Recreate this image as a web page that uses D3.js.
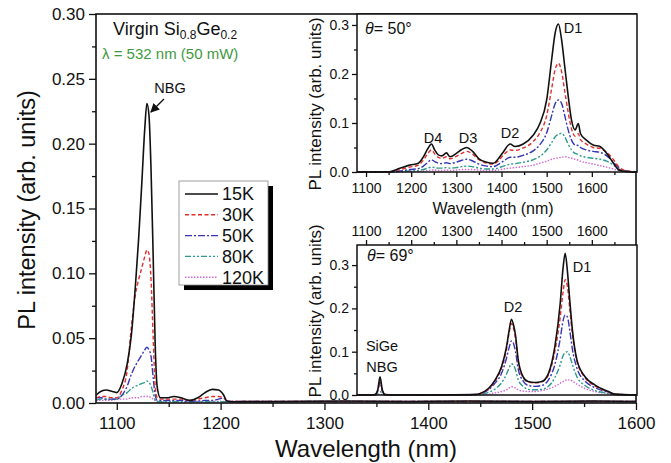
<!DOCTYPE html>
<html>
<head>
<meta charset="utf-8">
<script src="https://cdn.jsdelivr.net/npm/d3@7"></script>
<style>
  body { margin: 0; background: #fff; }
  svg { font-family: "Liberation Sans", Arial, sans-serif; }
</style>
</head>
<body>
<div id="chart"></div>
<script>
// ---- data ----
var temps = ["15K", "30K", "50K", "80K", "120K"];

// main panel: wavelength (nm)
var mainWl = [1080,1085,1090,1095,1100,1105,1110,1114,1118,1121,1124,1127,1129,1131,1133,1135,1137,1139,1142,1148,1155,1162,1170,1178,1185,1192,1198,1203,1206,1210,1260,1320,1380,1440,1500,1560,1600];
var main15 = [.006,.009,.010,.009,.008,.015,.030,.052,.091,.126,.168,.212,.231,.222,.180,.115,.045,.012,.004,.004,.005,.004,.002,.004,.008,.0105,.010,.006,.0015,.001,.0012,.0015,.0012,.0015,.0012,.0015,.0012];
var main30 = [.004,.005,.005,.004,.004,.010,.025,.058,.084,.095,.104,.113,.118,.115,.095,.052,.013,.004,.003,.003,.003,.003,.002,.003,.004,.005,.005,.004,.0015,.0012,.0012,.0012,.0012,.0012,.0012,.0012,.0012];
var main50 = [.004,.004,.003,.003,.003,.006,.013,.022,.029,.033,.037,.041,.043,.041,.036,.020,.006,.002,.002,.002,.002,.002,.0015,.0015,.002,.002,.003,.004,.0015,.0012,.0012,.0012,.0012,.0012,.0012,.0012,.0012];
var main80 = [.002,.003,.003,.003,.003,.006,.008,.011,.013,.014,.015,.016,.017,.016,.013,.008,.002,.001,.001,.001,.001,.001,.001,.001,.001,.001,.001,.001,.001,.001,.001,.001,.001,.001,.001,.001,.001];
var main120 = [.002,.002,.002,.002,.003,.003,.003,.004,.004,.004,.005,.005,.005,.005,.004,.003,.002,.0012,.0012,.0012,.0012,.0012,.0012,.0012,.0012,.0012,.0012,.0012,.0012,.0012,.0012,.0012,.0012,.0012,.0012,.0012,.0012];

// inset (a): theta = 50 deg
var wlA = [1080,1120,1150,1175,1197,1216,1227,1237,1245,1252,1260,1268,1278,1286,1300,1312,1323,1335,1350,1367,1382,1392,1404,1419,1430,1448,1470,1485,1500,1511,1519,1526,1533,1540,1547,1555,1563,1570,1575,1588,1603,1618,1633,1648,1660,1675,1700];
var a15 = [0,0,0,.0075,.014,.018,.031,.048,.057,.045,.035,.033,.039,.031,.038,.046,.050,.043,.027,.020,.018,.026,.041,.057,.052,.057,.075,.099,.147,.229,.285,.302,.270,.215,.160,.106,.086,.099,.078,.065,.055,.052,.038,.018,.004,.001,0];
var a30 = [0,0,0,.005,.010,.014,.024,.038,.045,.037,.030,.028,.031,.027,.032,.038,.042,.037,.025,.018,.016,.022,.034,.045,.044,.049,.062,.080,.115,.170,.210,.222,.205,.165,.125,.088,.073,.078,.066,.057,.050,.048,.040,.025,.010,.003,0];
var a50 = [0,0,0,.002,.005,.007,.012,.020,.025,.021,.018,.017,.019,.017,.020,.024,.026,.023,.016,.012,.011,.015,.022,.030,.030,.034,.043,.056,.080,.115,.140,.147,.140,.115,.088,.065,.055,.054,.050,.045,.042,.040,.033,.020,.008,.002,0];
var a80 = [0,0,0,.001,.002,.003,.005,.008,.010,.009,.008,.008,.009,.008,.009,.011,.012,.011,.008,.006,.006,.008,.012,.016,.017,.020,.025,.032,.045,.060,.072,.077,.079,.072,.058,.045,.038,.036,.033,.030,.028,.026,.022,.014,.006,.002,0];
var a120 = [0,0,0,0,.001,.001,.002,.003,.004,.004,.003,.003,.004,.003,.004,.005,.005,.005,.004,.003,.003,.004,.006,.008,.009,.011,.014,.018,.022,.026,.028,.029,.030,.031,.030,.028,.026,.024,.022,.019,.016,.013,.010,.006,.003,.001,0];

// inset (b): theta = 69 deg
var wlB = [1080,1110,1120,1126,1131,1136,1142,1160,1250,1340,1371,1386,1400,1411,1417,1422,1427,1431,1437,1448,1459,1474,1489,1504,1518,1530,1536,1541,1546,1551,1557,1567,1585,1607,1637,1650,1700];
var b15 = [0,0,.001,.012,.042,.012,.001,0,0,.001,.015,.035,.065,.111,.150,.175,.160,.138,.081,.042,.031,.029,.031,.050,.111,.212,.290,.327,.285,.220,.150,.081,.042,.023,.008,.002,0];
var b30 = [0,0,.001,.010,.032,.010,.001,0,0,.001,.014,.033,.062,.105,.145,.165,.152,.130,.076,.040,.030,.028,.030,.047,.100,.180,.235,.266,.250,.200,.140,.078,.040,.021,.007,.002,0];
var b50 = [0,0,.001,.010,.030,.010,.001,0,0,.001,.012,.028,.050,.085,.110,.125,.118,.100,.060,.032,.022,.020,.022,.035,.070,.130,.170,.185,.180,.150,.105,.062,.032,.017,.006,.002,0];
var b80 = [0,0,0,.004,.008,.004,0,0,0,0,.006,.014,.028,.048,.063,.072,.068,.058,.035,.020,.013,.012,.013,.020,.040,.070,.090,.098,.100,.090,.070,.042,.022,.010,.004,.001,0];
var b120 = [0,0,0,.001,.002,.001,0,0,0,0,.002,.005,.008,.012,.016,.019,.018,.016,.012,.009,.008,.008,.010,.014,.020,.027,.031,.034,.035,.035,.032,.025,.015,.008,.003,.001,0];

var mainTicksY = [0, 0.05, 0.10, 0.15, 0.20, 0.25, 0.30];
var mainTicksX = [1100, 1200, 1300, 1400, 1500, 1600];
var insetTicksX = [1100, 1200, 1300, 1400, 1500, 1600];
var insetTicksY = [0, 0.1, 0.2, 0.3];

// ---- styles ----
var colors = ["#111", "#e0302c", "#3535b8", "#2c9a8c", "#d26ad2"];
var dashes = [null, "4,2.5", "7,2,2,2", "6,2,2,2,2,2", "1.5,1.5"];
var widths = [1.6, 1.4, 1.4, 1.4, 1.4];

var W = 671, H = 463;
var svg = d3.select("#chart").append("svg").attr("width", W).attr("height", H);

var mx = d3.scaleLinear().domain([1080, 1600]).range([96, 636]);
var my = d3.scaleLinear().domain([0, 0.30]).range([403, 14]);

function drawSeries(g, x, y, wl, series, clipId) {
  var line = d3.line().curve(d3.curveMonotoneX)
    .x(function(d, i) { return x(wl[i]) })
    .y(function(d) { return y(d) });
  // draw hotter first so the 15K line sits on top
  for (var k = series.length - 1; k >= 0; k--) {
    g.append("path")
      .attr("clip-path", "url(#" + clipId + ")")
      .attr("d", line(series[k]))
      .attr("fill", "none")
      .attr("stroke", colors[k])
      .attr("stroke-width", widths[k])
      .attr("stroke-dasharray", dashes[k]);
  }
}

function addClip(id, x0, y0, x1, y1) {
  svg.append("clipPath").attr("id", id).append("rect")
    .attr("x", x0).attr("y", y0 - 2).attr("width", x1 - x0).attr("height", y1 - y0 + 4);
}

function styleAxis(g, fs) {
  g.selectAll(".domain").remove();
  g.selectAll("line").attr("stroke", "#111").attr("stroke-width", 1.3);
  g.selectAll("text").attr("font-size", fs).attr("fill", "#111");
}

// ---- main panel ----
addClip("clipMain", 96, 14, 636, 403);
drawSeries(svg.append("g"), mx, my, mainWl, [main15, main30, main50, main80, main120], "clipMain");

var gxm = svg.append("g").attr("transform", "translate(0,403)")
  .call(d3.axisBottom(mx).tickValues(mainTicksX).tickSize(7).tickPadding(7).tickFormat(d3.format("d")));
styleAxis(gxm, "17px");
var gxm2 = svg.append("g").attr("transform", "translate(0,403)")
  .call(d3.axisBottom(mx).tickValues([1150, 1250, 1350, 1450, 1550]).tickSize(4).tickFormat(""));
styleAxis(gxm2, "0px");

var gym = svg.append("g").attr("transform", "translate(96,0)")
  .call(d3.axisLeft(my).tickValues(mainTicksY).tickSize(7).tickPadding(4).tickFormat(d3.format(".2f")));
styleAxis(gym, "17px");
var gym2 = svg.append("g").attr("transform", "translate(96,0)")
  .call(d3.axisLeft(my).tickValues([0.025, 0.075, 0.125, 0.175, 0.225, 0.275]).tickSize(4).tickFormat(""));
styleAxis(gym2, "0px");

svg.append("rect").attr("x", 96).attr("y", 14).attr("width", 540).attr("height", 389)
  .attr("fill", "none").attr("stroke", "#111").attr("stroke-width", 1.6);

svg.append("text").attr("transform", "translate(35,210) rotate(-90)")
  .attr("text-anchor", "middle").attr("font-size", "23.5px").attr("fill", "#111")
  .text("PL intensity (arb. units)");
svg.append("text").attr("x", 366).attr("y", 457)
  .attr("text-anchor", "middle").attr("font-size", "24px").attr("fill", "#111")
  .text("Wavelength (nm)");

// title + excitation
var vt = svg.append("text").attr("x", 113).attr("y", 35).attr("font-size", "18px").attr("fill", "#111");
vt.append("tspan").text("Virgin Si");
vt.append("tspan").attr("font-size", "12px").attr("dy", 4).text("0.8");
vt.append("tspan").attr("dy", -4).text("Ge");
vt.append("tspan").attr("font-size", "12px").attr("dy", 4).text("0.2");
svg.append("text").attr("x", 102).attr("y", 59).attr("font-size", "15px").attr("fill", "#3f9a3f")
  .text("λ = 532 nm (50 mW)");

// NBG annotation
svg.append("defs").append("marker").attr("id", "arr").attr("viewBox", "0 0 10 10")
  .attr("refX", 9).attr("refY", 5).attr("markerWidth", 7).attr("markerHeight", 7).attr("orient", "auto")
  .append("path").attr("d", "M0,0L10,5L0,10Z").attr("fill", "#111");
svg.append("text").attr("x", 170).attr("y", 93).attr("text-anchor", "middle")
  .attr("font-size", "14.5px").attr("fill", "#111").text("NBG");
svg.append("line").attr("x1", 164).attr("y1", 99).attr("x2", mx(1129) + 4).attr("y2", my(0.229) + 6)
  .attr("stroke", "#111").attr("stroke-width", 1.3).attr("marker-end", "url(#arr)");

// legend
var lg = svg.append("g");
lg.append("rect").attr("x", 184).attr("y", 186).attr("width", 89).attr("height", 104).attr("fill", "#000");
lg.append("rect").attr("x", 179).attr("y", 181).attr("width", 89).attr("height", 104)
  .attr("fill", "#fff").attr("stroke", "#888").attr("stroke-width", 0.8);
temps.forEach(function(t, k) {
  var yy = 194 + k * 20.8;
  lg.append("line").attr("x1", 185).attr("x2", 218).attr("y1", yy).attr("y2", yy)
    .attr("stroke", colors[k]).attr("stroke-width", widths[k]).attr("stroke-dasharray", dashes[k]);
  lg.append("text").attr("x", 222).attr("y", yy).attr("dy", "0.36em")
    .attr("font-size", "18px").attr("fill", "#111").text(t);
});

// ---- insets ----
function inset(id, x0, x1, yTop, yBottom, yMax, wl, series, topAxis) {
  var x = d3.scaleLinear().domain([1080, 1700]).range([x0, x1]);
  var y = d3.scaleLinear().domain([0, yMax]).range([yBottom, yTop]);
  svg.append("rect").attr("x", x0).attr("y", yTop).attr("width", x1 - x0).attr("height", yBottom - yTop)
    .attr("fill", "#fff");
  addClip(id, x0, yTop, x1, yBottom);
  drawSeries(svg.append("g"), x, y, wl, series, id);

  var ax = topAxis ? d3.axisTop : d3.axisBottom;
  var yAx = topAxis ? yTop : yBottom;
  var gx = svg.append("g").attr("transform", "translate(0," + yAx + ")")
    .call(ax(x).tickValues(insetTicksX).tickSize(5).tickPadding(topAxis ? 4 : 6).tickFormat(d3.format("d")));
  styleAxis(gx, "14px");
  var gx2 = svg.append("g").attr("transform", "translate(0," + yAx + ")")
    .call(ax(x).tickValues([1150, 1250, 1350, 1450, 1550, 1650]).tickSize(3).tickFormat(""));
  styleAxis(gx2, "0px");

  var gy = svg.append("g").attr("transform", "translate(" + x0 + ",0)")
    .call(d3.axisLeft(y).tickValues(insetTicksY).tickSize(5).tickPadding(3).tickFormat(d3.format(".1f")));
  styleAxis(gy, "14px");
  var gy2 = svg.append("g").attr("transform", "translate(" + x0 + ",0)")
    .call(d3.axisLeft(y).tickValues([0.05, 0.15, 0.25]).tickSize(3).tickFormat(""));
  styleAxis(gy2, "0px");

  svg.append("rect").attr("x", x0).attr("y", yTop).attr("width", x1 - x0).attr("height", yBottom - yTop)
    .attr("fill", "none").attr("stroke", "#111").attr("stroke-width", 1.5);
  return { x: x, y: y };
}

var A = inset("clipA", 357, 637, 14, 172, 0.3224, wlA, [a15, a30, a50, a80, a120], false);
var B = inset("clipB", 357, 637, 245, 395, 0.3464, wlB, [b15, b30, b50, b80, b120], true);

// inset labels
function lbl(x, y, s, fs) {
  return svg.append("text").attr("x", x).attr("y", y).attr("text-anchor", "middle")
    .attr("font-size", fs || "14.5px").attr("fill", "#111").text(s);
}
svg.append("text").attr("transform", "translate(321,104) rotate(-90)").attr("text-anchor", "middle")
  .attr("font-size", "17px").attr("fill", "#111").text("PL intensity (arb. units)");
svg.append("text").attr("transform", "translate(321,311) rotate(-90)").attr("text-anchor", "middle")
  .attr("font-size", "17px").attr("fill", "#111").text("PL intensity (arb. units)");
lbl(493, 214, "Wavelength (nm)", "16px");

function thetaLabel(x, y, s) {
  var t = svg.append("text").attr("x", x).attr("y", y).attr("font-size", "16px").attr("fill", "#111");
  t.append("tspan").attr("font-style", "italic").text("θ");
  t.append("tspan").text("= " + s);
}
thetaLabel(365, 34, "50°");
thetaLabel(367, 261, "69°");

lbl(433, 143, "D4");
lbl(468, 143, "D3");
lbl(510, 138, "D2");
lbl(573, 33, "D1");

lbl(513, 312, "D2");
lbl(582, 272, "D1");
lbl(382, 351, "SiGe");
lbl(382, 372, "NBG");
</script>
</body>
</html>
